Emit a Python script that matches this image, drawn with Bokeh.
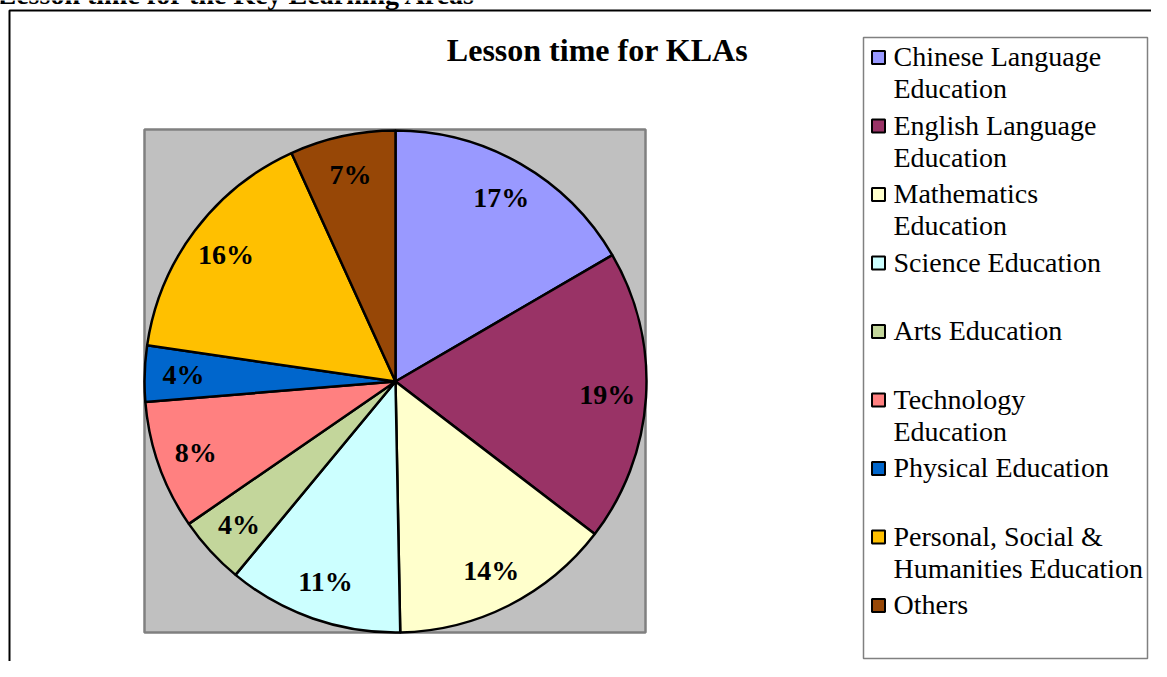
import math
from bokeh.plotting import figure
from bokeh.models import Range1d, ColumnDataSource
from bokeh.core.properties import value
from bokeh.embed import file_html
from bokeh.resources import INLINE

# ---- data ----
categories = [
    "Chinese Language\nEducation",
    "English Language\nEducation",
    "Mathematics\nEducation",
    "Science Education",
    "Arts Education",
    "Technology\nEducation",
    "Physical Education",
    "Personal, Social &\nHumanities Education",
    "Others",
]
shares = [16.6, 18.8, 14.3, 11.3, 4.4, 8.3, 3.6, 15.9, 6.8]
colors = ["#9999FF", "#993366", "#FFFFCC", "#CCFFFF", "#C3D69B",
          "#FF8080", "#0066CC", "#FFC000", "#974706"]
title_text = "Lesson time for KLAs"
header_text = "Lesson time for the Key Learning Areas"

# ---- layout (canvas pixels, y measured from top) ----
W, H = 1151, 661
FONT = "Liberation Serif"
TXT_SHIFT = 9  # rendered alphabetic baseline sits lower; compensate


def Y(v):
    return H - v


p = figure(width=W, height=H, output_backend="svg", toolbar_location=None,
           x_range=Range1d(0, W), y_range=Range1d(0, H),
           min_border=0, outline_line_color=None)
p.axis.visible = False
p.grid.visible = False
p.background_fill_color = "white"
p.border_fill_color = "white"

# cut-off page heading (only its lower part is on the page, as in the source)
p.text(x=[-3], y=[Y(3 - TXT_SHIFT)], text=[header_text], text_font=value(FONT),
       text_font_size="28px", text_font_style="bold", text_align="left",
       text_baseline="alphabetic", text_color="black")

# outer frame
p.line(x=[9, 9, W + 20], y=[Y(H + 20), Y(10), Y(10)], line_color="black", line_width=2)

# plot area
px0, px1, py0, py1 = 144, 645, 129, 632
p.quad(left=[px0], right=[px1], top=[Y(py0)], bottom=[Y(py1)],
       fill_color="#C0C0C0", line_color="#808080", line_width=2.5)

# pie
cx, cy, r = 395, Y(381), 251
total = sum(shares)
starts, ends, mids = [], [], []
acc = 0.0
for s in shares:
    a0 = acc / total
    acc += s
    a1 = acc / total
    starts.append(math.pi / 2 - a0 * 2 * math.pi)
    ends.append(math.pi / 2 - a1 * 2 * math.pi)
    mids.append(math.pi / 2 - (a0 + a1) / 2 * 2 * math.pi)

src = ColumnDataSource(dict(start=starts, end=ends, color=colors))
p.wedge(x=cx, y=cy, radius=r, start_angle="start", end_angle="end",
        direction="clock", fill_color="color", line_color="black",
        line_width=2.5, source=src)

lr = 0.845 * r
lab = ColumnDataSource(dict(
    x=[cx + lr * math.cos(m) for m in mids],
    y=[cy + lr * math.sin(m) for m in mids],
    t=[f"{round(s / total * 100)}%" for s in shares],
))
p.text(x="x", y="y", text="t", source=lab, text_font=value(FONT),
       text_font_size="28px", text_font_style="bold", text_align="center",
       text_baseline="middle", text_color="black")

# title
p.text(x=[597], y=[Y(58 - TXT_SHIFT)], text=[title_text], text_font=value(FONT),
       text_font_size="32px", text_font_style="bold", text_align="center",
       text_baseline="alphabetic", text_color="black")

# legend
lx0, lx1, ly0, ly1 = 863, 1147, 37, 658
p.quad(left=[lx0], right=[lx1], top=[Y(ly0)], bottom=[Y(ly1)],
       fill_color="white", line_color="#808080", line_width=1.5)

mk_x, mk_y, tx, ty, tl = [], [], [], [], []
for i, c in enumerate(categories):
    base = 65 + 68.5 * i
    mk_x.append(878)
    mk_y.append(Y(base - 8))
    for j, line in enumerate(c.split("\n")):
        tx.append(893)
        ty.append(Y(base - TXT_SHIFT + 32 * j))
        tl.append(line)

p.rect(x=mk_x, y=mk_y, width=13, height=13, fill_color=colors,
       line_color="black", line_width=2)
p.text(x=tx, y=ty, text=tl, text_font=value(FONT), text_font_size="28px",
       text_align="left", text_baseline="alphabetic", text_color="black")

open("out.html", "w").write(file_html(p, INLINE))
